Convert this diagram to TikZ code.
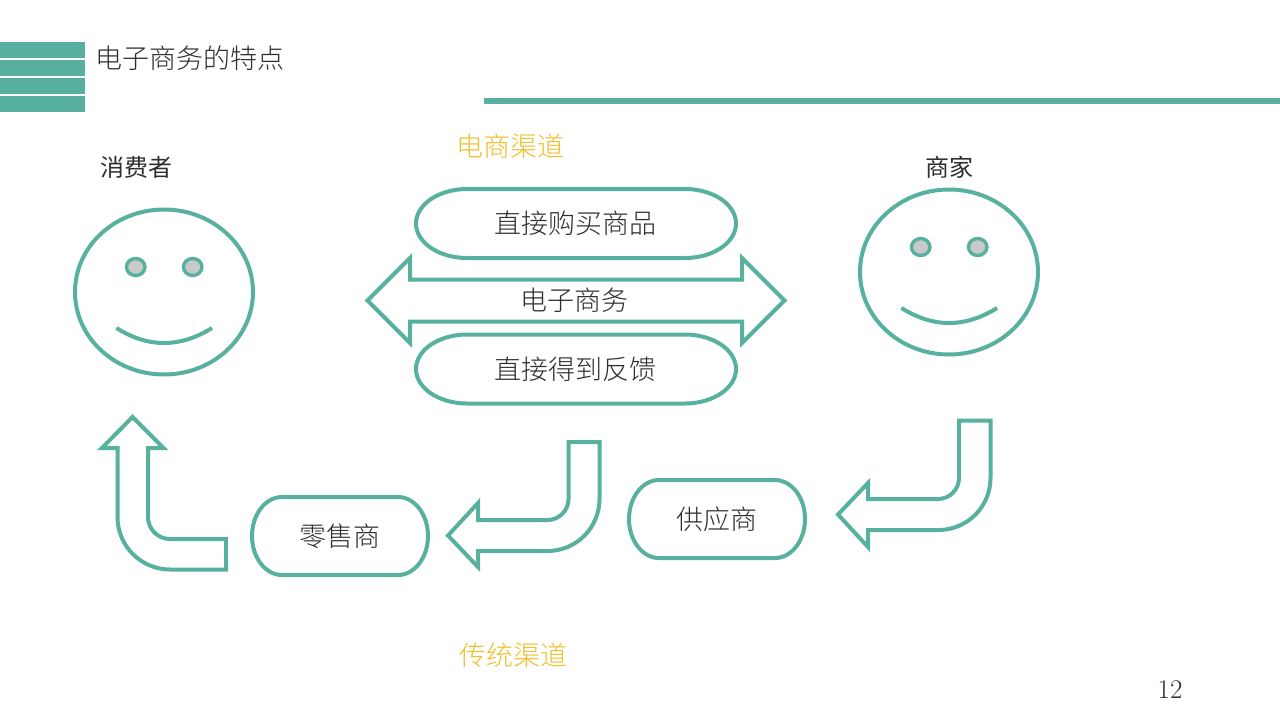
\documentclass[tikz,border=0pt]{standalone}
\usepackage{fontspec}
\setmainfont{Noto Sans CJK SC Light}
\newfontfamily\capfont{Noto Sans CJK SC}
\newfontfamily\numfont{Latin Modern Roman}
\definecolor{teal}{HTML}{58B19E}
\definecolor{amber}{HTML}{F0BE2B}
\definecolor{ink}{HTML}{2E2E2E}
\definecolor{eyegrey}{HTML}{C9C9C9}
\usetikzlibrary{shapes.geometric}
\tikzset{
  shapeline/.style={draw=teal,line width=4pt,line join=miter,miter limit=10},
  label/.style={inner sep=0pt,outer sep=0pt,text=ink},
  bigtext/.style={font=\fontsize{27}{27}\selectfont},
  captext/.style={font=\capfont\fontsize{24}{24}\selectfont},
  face/.style={shapeline,ellipse,fill=white,inner sep=0pt,outer sep=0pt,minimum width=178pt,minimum height=165pt},
  eye/.style={draw=teal,line width=3.4pt,ellipse,fill=eyegrey,inner sep=0pt,outer sep=0pt,minimum width=18.5pt,minimum height=17pt},
  smile/.style={draw=teal,line width=4pt,line cap=butt},
  bar/.style={fill=teal,draw=none}
}
% terminator outline: centre x, centre y, half width, half height, corner x-radius
\newcommand{\pilloutline}[5]{%
  \draw[shapeline] ({#1-#3+#5},{#2-#4}) -- ({#1+#3-#5},{#2-#4})
    arc[start angle=-90,end angle=90,x radius=#5,y radius=#4]
    -- ({#1-#3+#5},{#2+#4})
    arc[start angle=90,end angle=270,x radius=#5,y radius=#4] -- cycle;}
\begin{document}
\begin{tikzpicture}[x=1pt,y=-1pt]
\useasboundingbox (0,0) rectangle (1280,720);
% header
\fill[bar] (0,42) rectangle (85,58);
\fill[bar] (0,60) rectangle (85,76);
\fill[bar] (0,78) rectangle (85,94);
\fill[bar] (0,96) rectangle (85,112);
\fill[bar] (484,98) rectangle (1280,104);
\node[label,bigtext] (title) at (189.5,58) {电子商务的特点};
% captions
\node[label,captext] (consumer) at (136,167) {消费者};
\node[label,captext] (merchant) at (949,167) {商家};
\node[label,bigtext,text=amber] (ecom) at (510,146) {电商渠道};
\node[label,bigtext,text=amber] (trad) at (513,655) {传统渠道};
% faces
\node[face] (faceL) at (164,292) {};
\node[eye] (eyeL1) at (135.7,267) {};
\node[eye] (eyeL2) at (192.7,267) {};
\draw[smile] (116.5,328) .. controls (148,348) and (180,348) .. (212,328);
\node[face] (faceR) at (949,272) {};
\node[eye] (eyeR1) at (920.7,247) {};
\node[eye] (eyeR2) at (977.7,247) {};
\draw[smile] (901.5,308) .. controls (933,328) and (965,328) .. (997,308);
% double arrow
\draw[shapeline] (367.5,300.5) -- (410,258) -- (410,279.5) -- (742,279.5) -- (742,258) -- (784.5,300.5)
  -- (742,343) -- (742,321.5) -- (410,321.5) -- (410,343) -- cycle;
\node[label,bigtext] (ecommerce) at (574.5,300.5) {电子商务};
% pills
\pilloutline{576}{223.5}{160}{34.5}{51}
\node[label,bigtext] (buy) at (575,223.5) {直接购买商品};
\pilloutline{576}{369}{160}{34.5}{51}
\node[label,bigtext] (feedback) at (575,369) {直接得到反馈};
\pilloutline{340}{536}{88}{39}{30}
\node[label,bigtext] (retail) at (339.5,536) {零售商};
\pilloutline{717}{519}{88}{39}{30}
\node[label,bigtext] (supply) at (716.5,519) {供应商};
% bent arrows
\draw[shapeline] (959,420.5) -- (990.5,420.5) -- (990.5,478) arc[start angle=0,end angle=90,radius=52]
  -- (868,530) -- (868,547) -- (838,514.5) -- (868,483) -- (868,499) -- (938,499)
  arc[start angle=90,end angle=0,radius=21] -- cycle;
\draw[shapeline] (568.5,442) -- (599.5,442) -- (599.5,499) arc[start angle=0,end angle=90,radius=52]
  -- (478,551) -- (478,567) -- (448,535.5) -- (478,503) -- (478,520) -- (547.5,520)
  arc[start angle=90,end angle=0,radius=21] -- cycle;
\draw[shapeline] (226,569.5) -- (170,569.5) arc[start angle=90,end angle=180,radius=52.5]
  -- (117.5,448) -- (102,448) -- (132.5,417) -- (163.5,448) -- (148,448) -- (148,517)
  arc[start angle=180,end angle=90,radius=22] -- (226,539) -- cycle;
% page number
\node[label,font=\numfont\fontsize{27}{27}\selectfont,text=ink] (page) at (1170,690) {12};
\end{tikzpicture}
\end{document}
